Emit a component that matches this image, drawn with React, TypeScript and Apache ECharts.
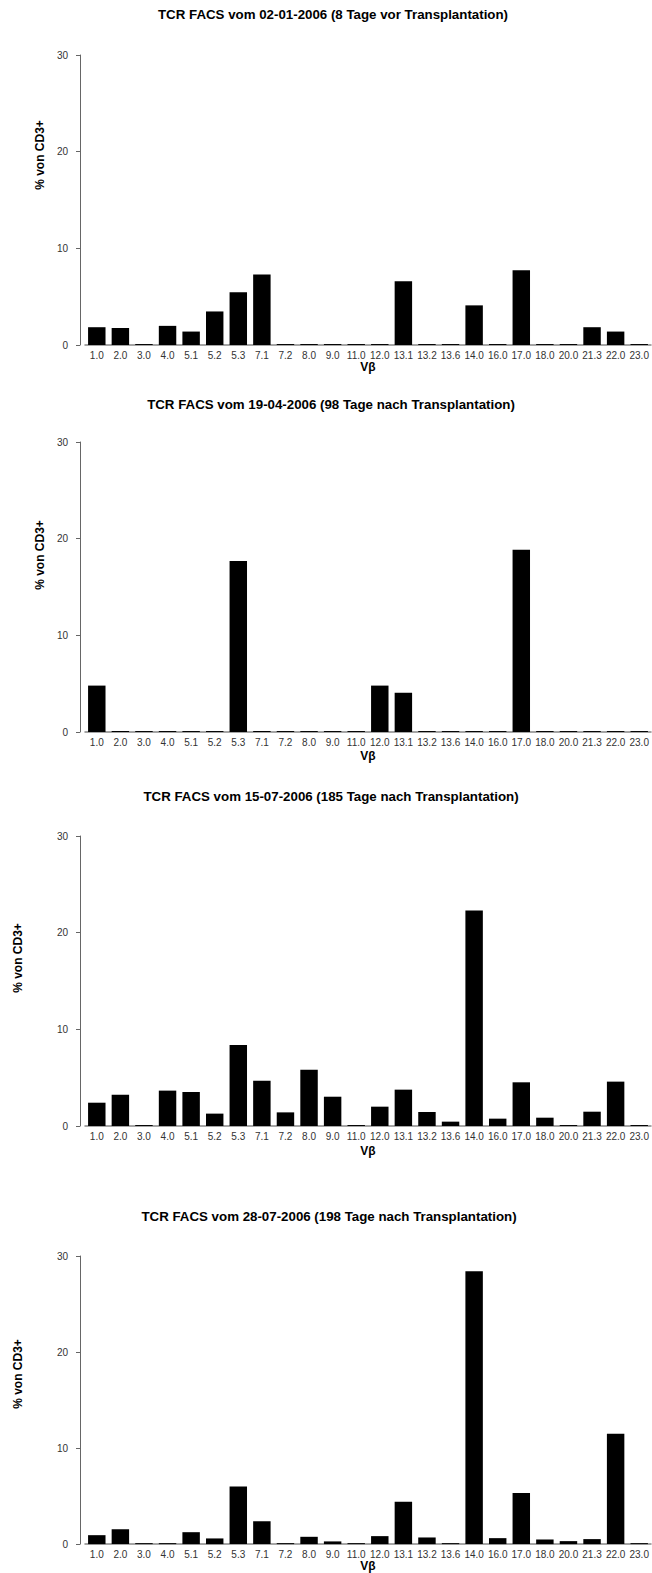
import React, { useEffect, useRef } from "react";
import * as echarts from "echarts";

const CATEGORIES = ["1.0", "2.0", "3.0", "4.0", "5.1", "5.2", "5.3", "7.1", "7.2", "8.0", "9.0", "11.0", "12.0", "13.1", "13.2", "13.6", "14.0", "16.0", "17.0", "18.0", "20.0", "21.3", "22.0", "23.0"];

const TITLES = [
  "TCR FACS vom 02-01-2006 (8 Tage vor Transplantation)",
  "TCR FACS vom 19-04-2006 (98 Tage nach Transplantation)",
  "TCR FACS vom 15-07-2006 (185 Tage nach Transplantation)",
  "TCR FACS vom 28-07-2006 (198 Tage nach Transplantation)",
];

const VALUES_1 = [1.84, 1.77, 0.1, 1.98, 1.39, 3.47, 5.45, 7.29, 0.1, 0.1, 0.1, 0.1, 0.1, 6.6, 0.1, 0.1, 4.1, 0.1, 7.74, 0.1, 0.1, 1.84, 1.39, 0.1];
const VALUES_2 = [4.8, 0.1, 0.1, 0.1, 0.1, 0.1, 17.7, 0.1, 0.1, 0.1, 0.1, 0.1, 4.8, 4.06, 0.1, 0.1, 0.1, 0.1, 18.85, 0.1, 0.1, 0.1, 0.1, 0.1];
const VALUES_3 = [2.41, 3.24, 0.1, 3.66, 3.52, 1.28, 8.38, 4.69, 1.41, 5.83, 3.03, 0.1, 2.0, 3.76, 1.45, 0.45, 22.3, 0.76, 4.52, 0.86, 0.1, 1.48, 4.59, 0.1];
const VALUES_4 = [0.93, 1.55, 0.1, 0.1, 1.24, 0.59, 6.0, 2.38, 0.1, 0.76, 0.28, 0.1, 0.83, 4.41, 0.69, 0.1, 28.4, 0.62, 5.31, 0.48, 0.31, 0.52, 11.48, 0.1];

const Y_TICKS = [0, 10, 20, 30];
const X_NAME = "Vβ";
const Y_NAME = "% von CD3+";

const SERIES = [VALUES_1, VALUES_2, VALUES_3, VALUES_4];

// layout (pixels)
const GRID_TOPS = [55, 442, 836, 1256];
const GRID_HEIGHT = 290;
const TITLE_Y = [14, 404, 796, 1216];
const TITLE_X = [333, 331, 331, 329];
const YNAME_X = [40, 40, 18, 18];
const YNAME_Y = [155, 555, 958, 1374];
const XNAME_GAP = [12, 18, 19, 11];

export default function App() {
  const ref = useRef<HTMLDivElement>(null);
  useEffect(() => {
    document.body.style.margin = "0";
    if (!ref.current) return;
    const chart = echarts.init(ref.current, null, { renderer: "svg" });
    const font = "'Liberation Sans', Arial, sans-serif";
    const grids = GRID_TOPS.map((t) => ({ left: 85, right: 1, top: t, height: GRID_HEIGHT }));
    const xAxes = SERIES.map((_, i) => ({
      type: "category",
      gridIndex: i,
      data: CATEGORIES,
      name: X_NAME,
      nameLocation: "middle",
      nameGap: XNAME_GAP[i],
      nameTextStyle: { fontFamily: font, fontWeight: "bold", fontSize: 12, color: "#000" },
      axisLine: { lineStyle: { color: "#888", width: 1.5 } },
      axisTick: { show: false },
      axisLabel: { interval: 0, fontFamily: font, fontSize: 10, color: "#333", margin: 5 },
      splitLine: { show: false },
    }));
    const yAxes = SERIES.map((_, i) => ({
      type: "value",
      gridIndex: i,
      min: Y_TICKS[0],
      max: Y_TICKS[Y_TICKS.length - 1],
      interval: 10,
      offset: 5,
      axisLine: { show: true, lineStyle: { color: "#666", width: 1 } },
      axisTick: { show: true, length: 4, lineStyle: { color: "#666" } },
      axisLabel: { fontFamily: font, fontSize: 10, color: "#333", margin: 12 },
      splitLine: { show: false },
    }));
    const series = SERIES.map((vals, i) => ({
      type: "bar",
      xAxisIndex: i,
      yAxisIndex: i,
      data: vals,
      barCategoryGap: "26%",
      itemStyle: { color: "#000" },
    }));
    const graphics: any[] = [];
    TITLES.forEach((t, i) => {
      graphics.push({
        type: "text",
        x: TITLE_X[i],
        y: TITLE_Y[i],
        style: { text: t, fontFamily: font, fontWeight: "bold", fontSize: 13.3, fill: "#000", align: "center", verticalAlign: "middle" },
      });
      graphics.push({
        type: "text",
        x: YNAME_X[i],
        y: YNAME_Y[i],
        rotation: Math.PI / 2,
        style: { text: Y_NAME, fontFamily: font, fontWeight: "bold", fontSize: 12, fill: "#000", align: "center", verticalAlign: "middle" },
      });
    });
    chart.setOption({
      animation: false,
      backgroundColor: "#fff",
      grid: grids,
      xAxis: xAxes,
      yAxis: yAxes,
      series,
      graphic: graphics,
    });
    return () => chart.dispose();
  }, []);
  return <div ref={ref} style={{ width: 652, height: 1573 }} />;
}
